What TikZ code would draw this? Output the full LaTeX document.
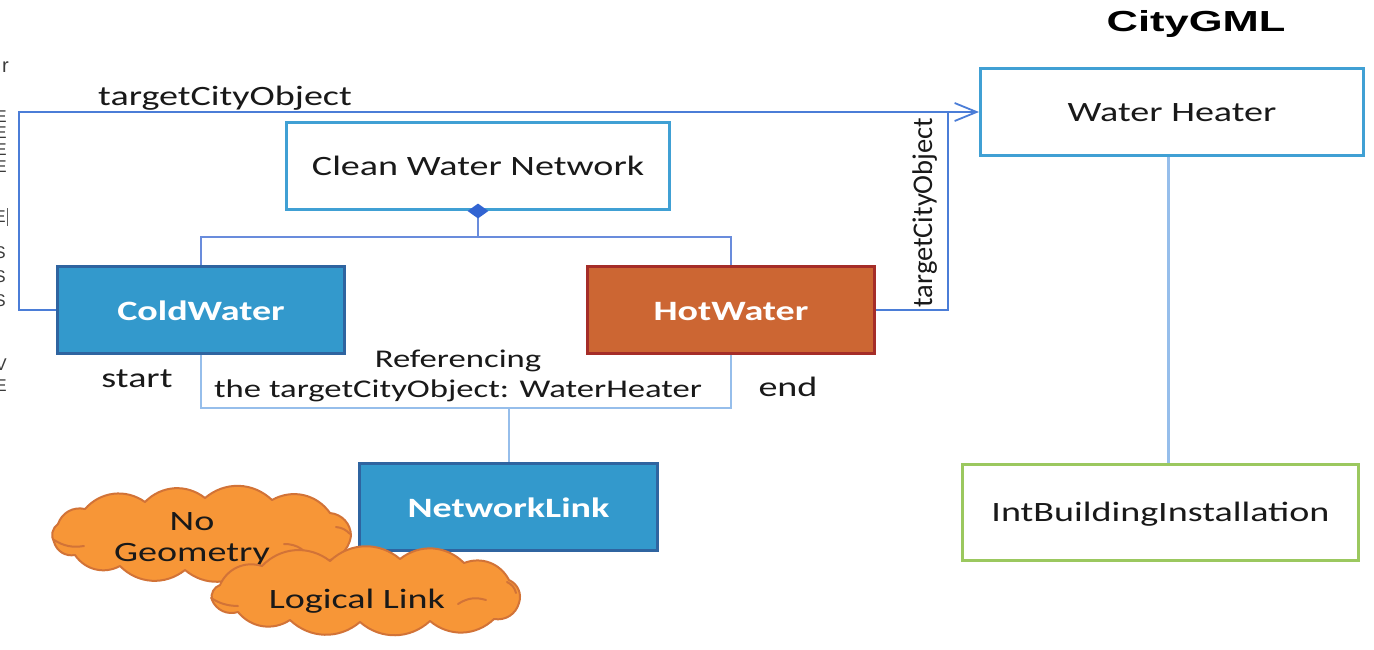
\documentclass[tikz,border=0pt]{standalone}
\usepackage{fontspec}
\setmainfont{Carlito}
\newfontfamily\widefont[FakeStretch=1.36]{Carlito}
\newfontfamily\titlefont[FakeStretch=1.5]{Liberation Sans}
\newfontfamily\edgefont{Liberation Sans}
\usetikzlibrary{shapes.geometric,arrows.meta,calc}

\definecolor{boxblue}{RGB}{64,160,212}
\definecolor{fillblue}{RGB}{51,153,204}
\definecolor{edgeblue}{RGB}{47,100,160}
\definecolor{fillred}{RGB}{204,102,51}
\definecolor{edgered}{RGB}{165,45,40}
\definecolor{edgegreen}{RGB}{155,200,95}
\definecolor{linkblue}{RGB}{75,125,215}
\definecolor{forkblue}{RGB}{105,140,220}
\definecolor{paleblue}{RGB}{150,190,235}
\definecolor{diablue}{RGB}{50,100,210}
\definecolor{cloudfill}{RGB}{247,150,55}
\definecolor{cloudedge}{RGB}{210,115,55}
\definecolor{ink}{RGB}{25,25,25}

\tikzset{
  whitebox/.style={draw=boxblue, line width=3pt, fill=white,
    minimum width=383pt, minimum height=87pt, inner sep=0pt,
    text height=18pt, text depth=0pt, text=ink,
    font=\widefont\fontsize{28}{30}\selectfont},
  solidbox/.style={line width=3pt, minimum width=287pt, minimum height=87pt,
    inner sep=0pt, text=white, text height=20pt, text depth=0pt,
    font=\widefont\bfseries\fontsize{28}{30}\selectfont},
  lbl/.style={inner sep=0pt, text=ink, font=\widefont\fontsize{28}{30}\selectfont},
  smalllbl/.style={inner sep=0pt, text=ink, font=\widefont\fontsize{25.5}{28}\selectfont},
  conn/.style={draw=linkblue, line width=1.8pt},
  forkline/.style={draw=forkblue, line width=1.8pt},
  paleline/.style={draw=paleblue, line width=2pt},
  puffy/.style={fill=cloudfill, draw=cloudedge, line width=2pt, line join=round},
  puffline/.style={draw=cloudedge, line width=2pt, line cap=round},
  cut/.style={inner sep=0pt, anchor=east, text=ink!85,
    font=\edgefont\fontsize{17}{18}\selectfont}
}

\begin{document}
\begin{tikzpicture}[x=1pt,y=-1pt]
\useasboundingbox (0,0) rectangle (1374,649);
\fill[white] (0,0) rectangle (1374,649);

% clipped labels at the left margin
\node[cut, font=\edgefont\fontsize{20}{21}\selectfont] (c1) at (9,67) {r};
\node[cut] (c2) at (7,117) {E};
\node[cut] (c3) at (7,133) {E};
\node[cut] (c4) at (7,150) {E};
\node[cut] (c5) at (7,167) {E};
\node[cut] (c6) at (6,217) {E};
\draw[ink!70, line width=0.8pt] (7.5,208) -- (7.5,226);
\node[cut] (c7) at (6,253) {S};
\node[cut] (c8) at (6,277) {S};
\node[cut] (c9) at (6,301) {S};
\node[cut] (c10) at (7,365) {V};
\node[cut] (c11) at (7,386) {E};

% title
\node[inner sep=0pt, anchor=base, text=black,
      font=\titlefont\bfseries\fontsize{29}{31}\selectfont] (title) at (1196,31) {CityGML};

% classes
\node[whitebox] (clean) at (478,166) {Clean Water Network};
\node[whitebox] (heater) at (1172,112) {Water Heater};
\node[whitebox, draw=edgegreen, minimum width=396pt, minimum height=96pt] (intb) at (1160.5,512.5) {IntBuildingInstallation};
\node[solidbox, fill=fillblue, draw=edgeblue] (cold) at (201,310) {ColdWater};
\node[solidbox, fill=fillred, draw=edgered] (hot) at (731,310) {HotWater};
\node[solidbox, fill=fillblue, draw=edgeblue, minimum width=298pt] (link) at (508.5,507) {NetworkLink};

% composition of the network
\coordinate (fork) at (478,237);
\draw[forkline] (clean.south) -- (fork);
\draw[forkline] (cold.north) |- (fork) -| (hot.north);
\node[diamond, fill=diablue, inner sep=0pt, minimum width=21pt, minimum height=15pt] (dia) at (clean.south) {};

% targetCityObject references
\coordinate (bend) at (19,112);
\coordinate (riser) at (948,112);
\draw[conn, -{Straight Barb[length=22pt,width=18pt]}] (cold.west) -| (bend) -- (heater.west);
\draw[conn] (hot.east) -| (riser);
\node[lbl, anchor=base] (toplbl) at (225,105) {targetCityObject};
\node[inner sep=0pt, text=ink, rotate=90, anchor=base,
      font=\fontsize{28.5}{30}\selectfont] (sidelbl) at (932,212.5) {targetCityObject};

% link between the two pipes
\coordinate (join) at (508.5,408);
\draw[paleline] (cold.south) |- (join) -| (hot.south);
\draw[paleline] (join) -- (link.north);
\node[lbl, anchor=base] (startlbl) at (137,387) {start};
\node[lbl, anchor=base] (endlbl) at (788,396) {end};
\node[smalllbl, anchor=base] (ref1) at (458,367) {Referencing};
\node[smalllbl, anchor=base] (ref2) at (458,397) {the targetCityObject: WaterHeater};

% building side
\draw[draw=paleblue, line width=3pt] ([xshift=-4pt]heater.south) -- ([xshift=-4pt]heater.south |- intb.north);

% note cloud: No Geometry
\filldraw[puffy] (58,524)
  to[bend left=42] (85,509) to[bend left=42] (145,502) to[bend left=42] (205,498)
  to[bend left=42] (272,500) to[bend left=42] (330,513) to[bend left=42] (351,536)
  to[bend left=42] (321,561) to[bend left=42] (250,568) to[bend left=42] (185,570)
  to[bend left=42] (120,566) to[bend left=42] (75,555) to[bend left=42] (54,542)
  to[bend left=42] (58,524) -- cycle;
\draw[puffline] (54,540) to[bend right=20] (84,546);
\draw[puffline] (284,544) to[bend left=35] (312,563);
\draw[puffline] (336,527) to[bend left=20] (350,534);
\node[lbl, anchor=base] (noA) at (192,530) {No};
\node[lbl, anchor=base] (geoA) at (192,561) {Geometry};

% note cloud: Logical Link
\filldraw[puffy] (220,585)
  to[bend left=42] (262,566) to[bend left=42] (330,561) to[bend left=42] (400,559)
  to[bend left=42] (464,563) to[bend left=42] (509,580) to[bend left=42] (519,603)
  to[bend left=42] (494,619) to[bend left=42] (430,621) to[bend left=42] (360,622)
  to[bend left=42] (290,620) to[bend left=42] (238,612) to[bend left=42] (212,600)
  to[bend left=42] (220,585) -- cycle;
\draw[puffline] (211,598) to[bend right=15] (238,606);
\draw[puffline] (458,604) to[bend left=25] (486,600);
\draw[puffline] (507,582) to[bend left=25] (516,593);
\node[lbl, anchor=base] (logB) at (357,608) {Logical Link};
\end{tikzpicture}
\end{document}
